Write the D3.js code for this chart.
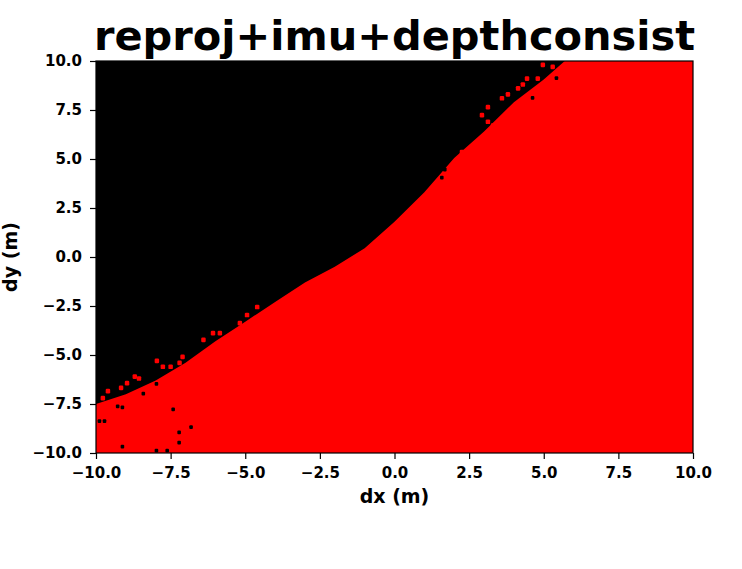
<!DOCTYPE html>
<html>
<head>
<meta charset="utf-8">
<script src="https://cdn.jsdelivr.net/npm/d3@7"></script>
<style>
  body { margin: 0; background: #fff; }
  text { font-family: "DejaVu Sans", sans-serif; font-weight: bold; }
</style>
</head>
<body>
<div id="chart"></div>
<script>
// boundary between the two regions (red below, black above)
const edgeDx = [-10, -9, -8, -7, -6, -5, -4, -3, -2, -1, 0, 1, 2, 3, 4, 5, 6];
const edgeDy = [-7.5, -7.0, -6.3, -5.4, -4.3, -3.3, -2.3, -1.3, -0.5, 0.45, 1.8, 3.3, 5.05, 6.4, 7.9, 9.05, 10.4];

// stray red cells in the black part
const redDx = [3.13, 2.93, 3.6, 3.8, 4.14, 4.3, 4.44, 4.8, 5.3, 4.97, 2.26, 3.13, 3.3,
               -4.94, -6.08, -5.85, -4.6, -6.4, -5.18,
               -7.96, -8.7, -8.56, -8.96, -9.16, -9.6, -9.77, -7.76, -7.5, -7.2, -7.1];
const redDy = [7.65, 7.24, 8.1, 8.3, 8.6, 8.8, 9.1, 9.1, 9.7, 9.8, 5.35, 6.9, 6.7,
               -2.96, -3.88, -3.88, -2.55, -4.23, -3.37,
               -5.3, -6.1, -6.2, -6.43, -6.68, -6.84, -7.2, -5.6, -5.6, -5.4, -5.1];

// stray black cells in the red part
const blackDx = [-6.8, -7.2, -7.2, -7.4, -9.1, -7.6, -7.96, -9.87, -9.7, -9.1, -9.26, -8.4, -7.96, 4.64, 5.44, 1.6, 1.7];
const blackDy = [-8.7, -8.97, -9.5, -7.8, -9.7, -9.9, -9.9, -8.4, -8.4, -7.7, -7.65, -7.0, -6.5, 8.1, 9.1, 4.03, 4.44];

const ticks = [-10, -7.5, -5, -2.5, 0, 2.5, 5, 7.5, 10];

const W = 742, H = 569;
const margin = {top: 61, right: 49, bottom: 116, left: 96};
const width = W - margin.left - margin.right,
      height = H - margin.top - margin.bottom;

const svg = d3.select("#chart").append("svg")
  .attr("width", W).attr("height", H);

const g = svg.append("g")
  .attr("transform", "translate(" + margin.left + "," + margin.top + ")");

const x = d3.scaleLinear().domain([-10, 10]).range([0, width]);
const y = d3.scaleLinear().domain([-10, 10]).range([height, 0]);

svg.append("defs").append("clipPath").attr("id", "clip")
  .append("rect").attr("width", width).attr("height", height);

const plot = g.append("g").attr("clip-path", "url(#clip)");

plot.append("rect")
  .attr("width", width).attr("height", height)
  .attr("fill", "#000");

const pts = edgeDx.map((d, i) => [d, edgeDy[i]]);
pts.push([10, edgeDy[edgeDy.length - 1]], [10, -10], [-10, -10]);

plot.append("path")
  .attr("d", d3.line().x(d => x(d[0])).y(d => y(d[1]))(pts) + "Z")
  .attr("fill", "#ff0000");

// cell size of the stray marks
const cw = x(0.15) - x(0), ch = y(0) - y(0.24);

plot.selectAll(".red")
  .data(redDx.map((d, i) => [d, redDy[i]]))
  .enter().append("rect")
  .attr("x", d => x(d[0]) - cw / 2)
  .attr("y", d => y(d[1]) - ch / 2)
  .attr("width", cw).attr("height", ch).attr("rx", 1.2)
  .attr("fill", "#ff0000");

plot.selectAll(".blk")
  .data(blackDx.map((d, i) => [d, blackDy[i]]))
  .enter().append("rect")
  .attr("x", d => x(d[0]) - cw / 2)
  .attr("y", d => y(d[1]) - ch / 2)
  .attr("width", cw * 0.8).attr("height", ch * 0.8).attr("rx", 1)
  .attr("fill", "#000");

const fmt = d3.format(".1f");
const minus = d => fmt(d).replace("-", "\u2212");

const xAxis = g.append("g")
  .attr("transform", "translate(0," + height + ")")
  .call(d3.axisBottom(x).tickValues(ticks).tickFormat(minus).tickSize(6).tickPadding(8));
const yAxis = g.append("g")
  .call(d3.axisLeft(y).tickValues(ticks).tickFormat(minus).tickSize(6).tickPadding(8));

[xAxis, yAxis].forEach(a => {
  a.select(".domain").remove();
  a.selectAll("text").attr("font-size", 15).attr("fill", "#000")
    .attr("font-family", "DejaVu Sans").attr("font-weight", "bold");
  a.selectAll("line").attr("stroke", "#000").attr("stroke-width", 1.2);
});

g.append("rect")
  .attr("width", width).attr("height", height)
  .attr("fill", "none").attr("stroke", "#000").attr("stroke-width", 1.2);

svg.append("text")
  .attr("x", margin.left + width / 2).attr("y", 50)
  .attr("text-anchor", "middle").attr("font-size", 41.5)
  .text("reproj+imu+depthconsist");

svg.append("text")
  .attr("x", margin.left + width / 2).attr("y", 503)
  .attr("text-anchor", "middle").attr("font-size", 19)
  .text("dx (m)");

svg.append("text")
  .attr("transform", "translate(17," + (margin.top + height / 2) + ") rotate(-90)")
  .attr("text-anchor", "middle").attr("font-size", 19)
  .text("dy (m)");
</script>
</body>
</html>
